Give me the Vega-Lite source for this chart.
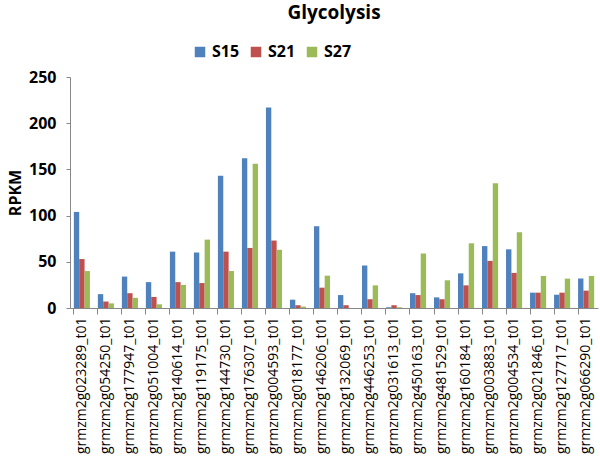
{
  "$schema": "https://vega.github.io/schema/vega-lite/v6.json",
  "width": 528,
  "height": 231,
  "autosize": "none",
  "padding": {"left": 70, "top": 77, "right": 2, "bottom": 158},
  "background": "white",
  "title": {"text": "Glycolysis", "font": "Open Sans", "fontSize": 19, "fontWeight": "bold", "color": "#000000", "anchor": "middle", "frame": "group", "offset": 21},
  "config": {"view": {"stroke": null}},
  "data": {"values": [
    {"gene": "grmzm2g023289_t01", "series": "S15", "v": 104},
    {"gene": "grmzm2g023289_t01", "series": "S21", "v": 53},
    {"gene": "grmzm2g023289_t01", "series": "S27", "v": 40},
    {"gene": "grmzm2g054250_t01", "series": "S15", "v": 15},
    {"gene": "grmzm2g054250_t01", "series": "S21", "v": 7},
    {"gene": "grmzm2g054250_t01", "series": "S27", "v": 5},
    {"gene": "grmzm2g177947_t01", "series": "S15", "v": 34},
    {"gene": "grmzm2g177947_t01", "series": "S21", "v": 16},
    {"gene": "grmzm2g177947_t01", "series": "S27", "v": 11},
    {"gene": "grmzm2g051004_t01", "series": "S15", "v": 28},
    {"gene": "grmzm2g051004_t01", "series": "S21", "v": 12},
    {"gene": "grmzm2g051004_t01", "series": "S27", "v": 4},
    {"gene": "grmzm2g140614_t01", "series": "S15", "v": 61},
    {"gene": "grmzm2g140614_t01", "series": "S21", "v": 28},
    {"gene": "grmzm2g140614_t01", "series": "S27", "v": 25},
    {"gene": "grmzm2g119175_t01", "series": "S15", "v": 60},
    {"gene": "grmzm2g119175_t01", "series": "S21", "v": 27},
    {"gene": "grmzm2g119175_t01", "series": "S27", "v": 74},
    {"gene": "grmzm2g144730_t01", "series": "S15", "v": 143},
    {"gene": "grmzm2g144730_t01", "series": "S21", "v": 61},
    {"gene": "grmzm2g144730_t01", "series": "S27", "v": 40},
    {"gene": "grmzm2g176307_t01", "series": "S15", "v": 162},
    {"gene": "grmzm2g176307_t01", "series": "S21", "v": 65},
    {"gene": "grmzm2g176307_t01", "series": "S27", "v": 156},
    {"gene": "grmzm2g004593_t01", "series": "S15", "v": 217},
    {"gene": "grmzm2g004593_t01", "series": "S21", "v": 73},
    {"gene": "grmzm2g004593_t01", "series": "S27", "v": 63},
    {"gene": "grmzm2g018177_t01", "series": "S15", "v": 9},
    {"gene": "grmzm2g018177_t01", "series": "S21", "v": 3},
    {"gene": "grmzm2g018177_t01", "series": "S27", "v": 1.5},
    {"gene": "grmzm2g146206_t01", "series": "S15", "v": 88.5},
    {"gene": "grmzm2g146206_t01", "series": "S21", "v": 22},
    {"gene": "grmzm2g146206_t01", "series": "S27", "v": 35},
    {"gene": "grmzm2g132069_t01", "series": "S15", "v": 14},
    {"gene": "grmzm2g132069_t01", "series": "S21", "v": 3},
    {"gene": "grmzm2g132069_t01", "series": "S27", "v": 0},
    {"gene": "grmzm2g446253_t01", "series": "S15", "v": 46},
    {"gene": "grmzm2g446253_t01", "series": "S21", "v": 9.5},
    {"gene": "grmzm2g446253_t01", "series": "S27", "v": 24.5},
    {"gene": "grmzm2g031613_t01", "series": "S15", "v": 0.8},
    {"gene": "grmzm2g031613_t01", "series": "S21", "v": 3},
    {"gene": "grmzm2g031613_t01", "series": "S27", "v": 0.8},
    {"gene": "grmzm2g450163_t01", "series": "S15", "v": 16},
    {"gene": "grmzm2g450163_t01", "series": "S21", "v": 14},
    {"gene": "grmzm2g450163_t01", "series": "S27", "v": 59},
    {"gene": "grmzm2g481529_t01", "series": "S15", "v": 11.5},
    {"gene": "grmzm2g481529_t01", "series": "S21", "v": 9.5},
    {"gene": "grmzm2g481529_t01", "series": "S27", "v": 30},
    {"gene": "grmzm2g160184_t01", "series": "S15", "v": 37.5},
    {"gene": "grmzm2g160184_t01", "series": "S21", "v": 24.5},
    {"gene": "grmzm2g160184_t01", "series": "S27", "v": 70},
    {"gene": "grmzm2g003883_t01", "series": "S15", "v": 67},
    {"gene": "grmzm2g003883_t01", "series": "S21", "v": 51},
    {"gene": "grmzm2g003883_t01", "series": "S27", "v": 135},
    {"gene": "grmzm2g004534_t01", "series": "S15", "v": 63.5},
    {"gene": "grmzm2g004534_t01", "series": "S21", "v": 38},
    {"gene": "grmzm2g004534_t01", "series": "S27", "v": 82},
    {"gene": "grmzm2g021846_t01", "series": "S15", "v": 16.6},
    {"gene": "grmzm2g021846_t01", "series": "S21", "v": 16.6},
    {"gene": "grmzm2g021846_t01", "series": "S27", "v": 34.7},
    {"gene": "grmzm2g127717_t01", "series": "S15", "v": 14.4},
    {"gene": "grmzm2g127717_t01", "series": "S21", "v": 16.6},
    {"gene": "grmzm2g127717_t01", "series": "S27", "v": 31.8},
    {"gene": "grmzm2g066290_t01", "series": "S15", "v": 31.8},
    {"gene": "grmzm2g066290_t01", "series": "S21", "v": 18.8},
    {"gene": "grmzm2g066290_t01", "series": "S27", "v": 34.7}
  ]},
  "mark": {"type": "bar"},
  "encoding": {
    "x": {
      "field": "gene", "type": "nominal", "sort": null,
      "scale": {"paddingInner": 0.33, "paddingOuter": 0.16},
      "axis": {
        "title": null, "labelAngle": -90, "labelAlign": "right", "labelBaseline": "middle",
        "labelFont": "Open Sans", "labelFontSize": 14, "labelColor": "#000000",
        "bandPosition": 0, "tickSize": 6, "tickColor": "#888888", "domainColor": "#888888",
        "labelPadding": 3
      }
    },
    "xOffset": {"field": "series", "type": "nominal", "scale": {"paddingInner": 0}},
    "y": {
      "field": "v", "type": "quantitative",
      "scale": {"domain": [0, 250], "nice": false},
      "axis": {
        "title": "RPKM", "titleFont": "Open Sans", "titleFontSize": 16, "titleFontWeight": "bold", "titleColor": "#000000",
        "titlePadding": 5,
        "values": [0, 50, 100, 150, 200, 250], "grid": false,
        "labelFont": "Open Sans", "labelFontSize": 16, "labelFontWeight": "bold", "labelColor": "#000000",
        "tickSize": 4, "tickColor": "#888888", "domainColor": "#888888", "labelPadding": 10
      }
    },
    "color": {
      "field": "series", "type": "nominal",
      "scale": {"domain": ["S15", "S21", "S27"], "range": ["#4F81BD", "#C0504D", "#9BBB59"]},
      "legend": {
        "title": null, "orient": "none", "direction": "horizontal", "legendX": 122, "legendY": -33,
        "symbolType": "square", "symbolSize": 110, "symbolStrokeWidth": 0,
        "labelFont": "Open Sans", "labelFontSize": 16, "labelFontWeight": "bold", "labelColor": "#000000",
        "columnPadding": 8, "labelOffset": 4
      }
    }
  }
}
